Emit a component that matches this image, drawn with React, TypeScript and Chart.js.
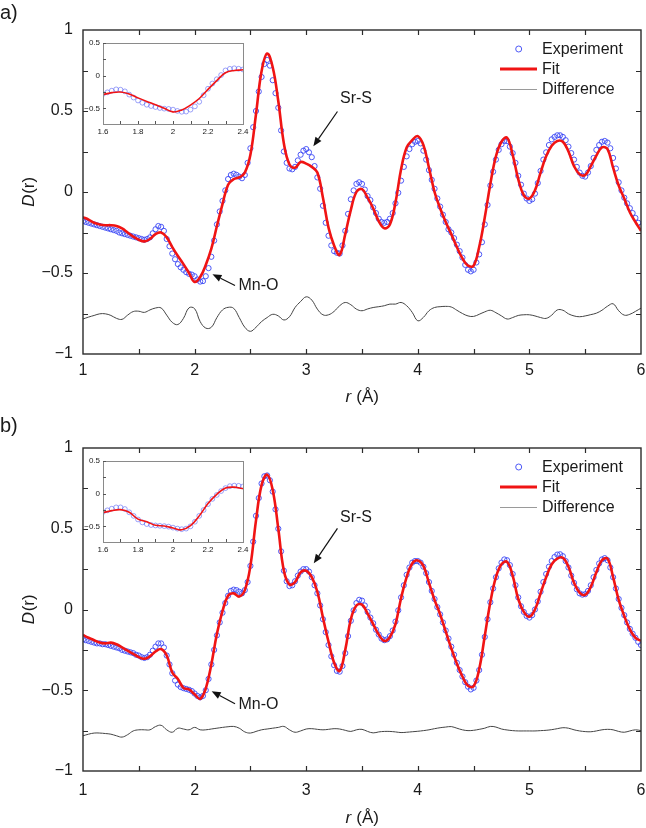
import React, { useEffect, useRef } from 'react';
import { Chart, registerables } from 'chart.js';

Chart.register(...registerables);

// Sampling of the r axis (Å)
const R_START = 1;
const EXP_STEP = 0.025;
const CURVE_STEP = 0.05;

// Axis ticks
const xTickValues = [1, 1.5, 2, 2.5, 3, 3.5, 4, 4.5, 5, 5.5, 6];
const yTickValues = [-1, -0.75, -0.5, -0.25, 0, 0.25, 0.5, 0.75, 1];
const insetXTickValues = [1.6, 1.7, 1.8, 1.9, 2, 2.1, 2.2, 2.3, 2.4];
const insetYTickValues = [-0.5, -0.25, 0, 0.25, 0.5];

// Panel a) — measured D(r), every 0.025 Å from 1 to 6 Å
const expA = [
  -0.18, -0.185, -0.19, -0.195, -0.2, -0.205, -0.21, -0.215,
  -0.22, -0.225, -0.23, -0.235, -0.24, -0.25, -0.255, -0.26,
  -0.265, -0.27, -0.275, -0.28, -0.285, -0.29, -0.295, -0.29,
  -0.28, -0.255, -0.23, -0.21, -0.215, -0.24, -0.29, -0.335,
  -0.38, -0.415, -0.445, -0.465, -0.48, -0.495, -0.505, -0.51,
  -0.52, -0.54, -0.553, -0.55, -0.52, -0.47, -0.4, -0.3,
  -0.2, -0.12, -0.055, 0.01, 0.08, 0.105, 0.113, 0.106,
  0.095, 0.085, 0.105, 0.18, 0.27, 0.4, 0.5, 0.62,
  0.71, 0.79, 0.815, 0.78, 0.69, 0.61, 0.52, 0.38,
  0.25, 0.18, 0.145, 0.14, 0.155, 0.195, 0.23, 0.255,
  0.265, 0.245, 0.215, 0.16, 0.09, 0.02, -0.085, -0.19,
  -0.27, -0.33, -0.365, -0.375, -0.38, -0.33, -0.24, -0.135,
  -0.045, 0.01, 0.05, 0.06, 0.05, 0.015, -0.025, -0.05,
  -0.095, -0.13, -0.165, -0.185, -0.19, -0.185, -0.165, -0.13,
  -0.07, -0.005, 0.07, 0.155, 0.22, 0.265, 0.295, 0.31,
  0.315, 0.3, 0.255, 0.2, 0.135, 0.075, 0.02, -0.04,
  -0.09, -0.14, -0.185, -0.23, -0.25, -0.285, -0.325, -0.365,
  -0.405, -0.45, -0.48, -0.49, -0.48, -0.435, -0.385, -0.31,
  -0.2, -0.08, 0.04, 0.125, 0.2, 0.26, 0.295, 0.315,
  0.314, 0.28, 0.24, 0.18, 0.1, 0.045, -0.01, -0.04,
  -0.055, -0.045, -0.01, 0.055, 0.13, 0.2, 0.245, 0.29,
  0.325, 0.34, 0.35, 0.35, 0.34, 0.32, 0.28, 0.24,
  0.2, 0.155, 0.12, 0.1, 0.095, 0.12, 0.16, 0.21,
  0.26, 0.29, 0.31, 0.315, 0.305, 0.27, 0.21, 0.145,
  0.06, 0.01, -0.035, -0.07, -0.1, -0.13, -0.16, -0.19,
  -0.215,
];

// Panel a) — fitted D(r), every 0.05 Å
const fitA = [
  -0.155, -0.17, -0.19, -0.2, -0.205, -0.205, -0.21, -0.225, -0.25, -0.275,
  -0.295, -0.305, -0.29, -0.26, -0.25, -0.28, -0.34, -0.395, -0.445, -0.5,
  -0.555, -0.525, -0.45, -0.35, -0.21, -0.075, 0.045, 0.08, 0.09, 0.12,
  0.23, 0.48, 0.745, 0.855, 0.77, 0.56, 0.3, 0.17, 0.15, 0.185,
  0.175, 0.155, 0.12, -0.035, -0.22, -0.33, -0.388, -0.26, -0.11, 0.0,
  0.018, -0.035, -0.1, -0.18, -0.224, -0.2, -0.065, 0.14, 0.275, 0.32,
  0.345, 0.29, 0.15, 0.0, -0.1, -0.185, -0.26, -0.34, -0.41, -0.455,
  -0.455, -0.34, -0.158, 0.05, 0.22, 0.31, 0.335, 0.23, 0.08, -0.02,
  -0.04, 0.01, 0.12, 0.22, 0.285, 0.315, 0.31, 0.25, 0.16, 0.11,
  0.105, 0.16, 0.225, 0.275, 0.265, 0.15, 0.04, -0.04, -0.125, -0.185,
  -0.24,
];

// Panel a) — difference curve (offset), every 0.05 Å
const diffA = [
  -0.784, -0.772, -0.762, -0.752, -0.752, -0.762, -0.78, -0.786, -0.76, -0.738,
  -0.736, -0.743, -0.728, -0.716, -0.716, -0.76, -0.805, -0.818, -0.78, -0.715,
  -0.72, -0.8, -0.84, -0.835, -0.775, -0.728, -0.712, -0.718, -0.775, -0.835,
  -0.86, -0.835, -0.8, -0.775, -0.755, -0.765, -0.79, -0.77, -0.713, -0.676,
  -0.647, -0.667, -0.723, -0.758, -0.758, -0.737, -0.702, -0.682, -0.696, -0.723,
  -0.733, -0.722, -0.713, -0.708, -0.702, -0.692, -0.692, -0.682, -0.702, -0.743,
  -0.795, -0.774, -0.733, -0.713, -0.708, -0.706, -0.71, -0.73, -0.75, -0.765,
  -0.768, -0.755, -0.74, -0.73, -0.745, -0.765, -0.784, -0.775, -0.762, -0.758,
  -0.758, -0.765, -0.775, -0.78, -0.76, -0.728, -0.73, -0.752, -0.765, -0.77,
  -0.765, -0.757, -0.748, -0.73, -0.705, -0.69, -0.733, -0.76, -0.755, -0.737,
  -0.717,
];

// Panel b) — measured D(r), every 0.025 Å
const expB = [
  -0.185, -0.19, -0.195, -0.2, -0.205, -0.21, -0.21, -0.215,
  -0.215, -0.22, -0.225, -0.23, -0.235, -0.24, -0.25, -0.255,
  -0.26, -0.265, -0.27, -0.28, -0.285, -0.295, -0.3, -0.295,
  -0.28, -0.255, -0.23, -0.21, -0.21, -0.235, -0.285, -0.34,
  -0.395, -0.44, -0.465, -0.48, -0.487, -0.492, -0.497, -0.505,
  -0.52, -0.535, -0.544, -0.535, -0.5, -0.43, -0.34, -0.25,
  -0.16, -0.08, -0.02, 0.04, 0.085, 0.115, 0.123, 0.12,
  0.11, 0.1, 0.12, 0.17, 0.27, 0.42, 0.58, 0.69,
  0.78, 0.825, 0.83, 0.8, 0.73, 0.62, 0.5, 0.36,
  0.24, 0.175, 0.145, 0.15, 0.175, 0.21, 0.235, 0.25,
  0.25, 0.235, 0.2, 0.15, 0.1, 0.025, -0.06, -0.14,
  -0.22, -0.29, -0.345, -0.38, -0.385, -0.35, -0.27, -0.165,
  -0.07, -0.005, 0.04, 0.06, 0.055, 0.025, -0.015, -0.05,
  -0.085, -0.125, -0.155, -0.18, -0.19, -0.185, -0.165, -0.13,
  -0.075, -0.005, 0.075, 0.15, 0.215, 0.26, 0.29, 0.3,
  0.3, 0.29, 0.265, 0.225, 0.17, 0.115, 0.065, 0.015,
  -0.03, -0.08, -0.13, -0.18, -0.23, -0.28, -0.33, -0.375,
  -0.415, -0.45, -0.478, -0.495, -0.485, -0.44, -0.375, -0.28,
  -0.17, -0.06, 0.045, 0.13, 0.2, 0.255, 0.29, 0.31,
  0.305, 0.275, 0.22, 0.15, 0.075, 0.02, -0.015, -0.04,
  -0.05, -0.035, 0.0, 0.05, 0.11, 0.17, 0.22, 0.265,
  0.3, 0.325, 0.34, 0.342, 0.33, 0.3, 0.26, 0.21,
  0.165, 0.125, 0.1, 0.092, 0.095, 0.115, 0.15, 0.2,
  0.245, 0.285, 0.31, 0.318, 0.305, 0.26, 0.2, 0.13,
  0.065, 0.01, -0.035, -0.08, -0.12, -0.15, -0.175, -0.2,
  -0.22,
];

// Panel b) — fitted D(r), every 0.05 Å
const fitB = [
  -0.158, -0.175, -0.19, -0.205, -0.21, -0.205, -0.215, -0.235, -0.255, -0.275,
  -0.295, -0.305, -0.29, -0.26, -0.245, -0.285, -0.39, -0.43, -0.485, -0.495,
  -0.525, -0.553, -0.49, -0.34, -0.15, -0.01, 0.085, 0.1, 0.08, 0.12,
  0.27, 0.55, 0.77, 0.835, 0.74, 0.5, 0.24, 0.155, 0.17, 0.23,
  0.24, 0.2, 0.11, -0.05, -0.2, -0.33, -0.38, -0.25, -0.06, 0.025,
  0.03, -0.025, -0.09, -0.155, -0.195, -0.17, -0.09, 0.07, 0.2, 0.285,
  0.304, 0.27, 0.165, 0.06, -0.03, -0.135, -0.24, -0.335, -0.415, -0.472,
  -0.475, -0.37, -0.164, 0.045, 0.2, 0.28, 0.295, 0.21, 0.065, -0.015,
  -0.045, 0.0, 0.1, 0.2, 0.28, 0.315, 0.32, 0.265, 0.165, 0.105,
  0.09, 0.14, 0.23, 0.305, 0.315, 0.2, 0.06, -0.04, -0.123, -0.175,
  -0.195,
];

// Panel b) — difference curve (offset), every 0.05 Å
const diffB = [
  -0.782, -0.772, -0.765, -0.765, -0.768, -0.772, -0.782, -0.79, -0.775, -0.752,
  -0.745, -0.745, -0.745, -0.725, -0.717, -0.745, -0.76, -0.735, -0.74, -0.745,
  -0.73, -0.745, -0.745, -0.74, -0.735, -0.73, -0.726, -0.724, -0.735, -0.758,
  -0.765, -0.755, -0.745, -0.74, -0.735, -0.73, -0.724, -0.745, -0.76, -0.752,
  -0.74, -0.738, -0.742, -0.745, -0.742, -0.738, -0.74, -0.748, -0.755, -0.745,
  -0.742, -0.755, -0.764, -0.758, -0.755, -0.755, -0.758, -0.762, -0.76, -0.757,
  -0.754, -0.75, -0.745, -0.738, -0.732, -0.728, -0.725, -0.735, -0.745, -0.75,
  -0.748, -0.742, -0.735, -0.724, -0.728, -0.74, -0.746, -0.75, -0.752, -0.752,
  -0.752, -0.752, -0.75, -0.748, -0.744, -0.738, -0.732, -0.735, -0.745, -0.752,
  -0.756, -0.757, -0.752, -0.745, -0.742, -0.745, -0.755, -0.76, -0.752, -0.745,
  -0.75,
];

const seriesNames = ['Experiment', 'Fit', 'Difference'];

const FAMILY = '"Liberation Sans", Arial, Helvetica, sans-serif';
const BLUE = 'rgba(60, 72, 245, 0.9)';
const BLUE_INSET = 'rgba(80, 92, 245, 0.7)';
const RED = '#f01414';
const DIFF_COLOR = '#444444';
const DIFF_LEGEND = '#9a9a9a';
const AXIS = '#2b2b2b';
const TEXT = '#1a1a1a';

const CANVAS_W = 646;
const Y_AXIS_W = 83;
const RIGHT_PAD = 5;
const TICK_FONT = 16;

const INSET_LEFT = 76;
const INSET_W = 174;
const INSET_AREA_H = 81;
const INSET_PAD_TOP = 8;
const INSET_X_AXIS_H = 18;
const INSET_Y_AXIS_W = 27;
const INSET_OFFSET = 13; // inset plot top below main plot top

type Pt = { x: number; y: number };
const toPoints = (values: number[], step: number): Pt[] =>
  values.map((v, i) => ({ x: Math.round((R_START + i * step) * 1000) / 1000, y: v }));

const fmt = (v: number) => String(Math.round(v * 100) / 100).replace('-', '\u2212');

type Note = { text: string; textX: number; textY: number; align: CanvasTextAlign; from: [number, number]; to: [number, number] };

type PanelSpec = {
  label: string;
  top: number;
  height: number;
  areaTop: number;
  areaBottom: number;
  labelY: number;
  tickGap: number;
  titleOffset: number;
  exp: number[];
  fit: number[];
  diff: number[];
  notes: Note[];
};

const panels: PanelSpec[] = [
  {
    label: 'a)', top: 0, height: 405, areaTop: 30, areaBottom: 354, labelY: 13, tickGap: 7, titleOffset: 43,
    exp: expA, fit: fitA, diff: diffA,
    notes: [
      { text: 'Sr-S', textX: 3.446, textY: 0.574, align: 'center', from: [3.28, 0.497], to: [3.064, 0.282] },
      { text: 'Mn-O', textX: 2.393, textY: -0.58, align: 'left', from: [2.362, -0.577], to: [2.16, -0.508] },
    ],
  },
  {
    label: 'b)', top: 405, height: 423, areaTop: 43, areaBottom: 366, labelY: 21, tickGap: 10, titleOffset: 47,
    exp: expB, fit: fitB, diff: diffB,
    notes: [
      { text: 'Sr-S', textX: 3.446, textY: 0.572, align: 'center', from: [3.28, 0.502], to: [3.068, 0.286] },
      { text: 'Mn-O', textX: 2.393, textY: -0.589, align: 'left', from: [2.362, -0.583], to: [2.153, -0.506] },
    ],
  },
];

function drawArrow(ctx: CanvasRenderingContext2D, x0: number, y0: number, x1: number, y1: number) {
  const ang = Math.atan2(y1 - y0, x1 - x0);
  const len = 9;
  const hw = 3.6;
  const bx = x1 - len * Math.cos(ang);
  const by = y1 - len * Math.sin(ang);
  ctx.beginPath();
  ctx.moveTo(x0, y0);
  ctx.lineTo(bx, by);
  ctx.stroke();
  ctx.beginPath();
  ctx.moveTo(x1, y1);
  ctx.lineTo(bx + hw * Math.sin(ang), by - hw * Math.cos(ang));
  ctx.lineTo(bx - hw * Math.sin(ang), by + hw * Math.cos(ang));
  ctx.closePath();
  ctx.fill();
}

// Two-part label: italic symbol followed by upright text, centred on (0, 0)
function drawMixedLabel(ctx: CanvasRenderingContext2D, italicPart: string, plainPart: string, size: number) {
  ctx.font = `italic ${size}px ${FAMILY}`;
  const w1 = ctx.measureText(italicPart).width;
  ctx.font = `${size}px ${FAMILY}`;
  const w2 = ctx.measureText(plainPart).width;
  const start = -(w1 + w2) / 2;
  ctx.textAlign = 'left';
  ctx.textBaseline = 'middle';
  ctx.font = `italic ${size}px ${FAMILY}`;
  ctx.fillText(italicPart, start, 0);
  ctx.font = `${size}px ${FAMILY}`;
  ctx.fillText(plainPart, start + w1 + 0.5, 0);
}

function mainDecor(spec: PanelSpec) {
  return {
    id: 'mainDecor',
    afterDraw(chart: any) {
      const { ctx, chartArea: a, scales } = chart;
      const xs = scales.x;
      const ys = scales.y;
      ctx.save();

      // frame with inward ticks on all four sides
      ctx.strokeStyle = AXIS;
      ctx.lineWidth = 1.4;
      ctx.strokeRect(a.left, a.top, a.right - a.left, a.bottom - a.top);
      ctx.lineWidth = 1.2;
      ctx.beginPath();
      xTickValues.slice(1, -1).forEach((t) => {
        const px = Math.round(xs.getPixelForValue(t)) + 0.5;
        ctx.moveTo(px, a.bottom);
        ctx.lineTo(px, a.bottom - 5);
        ctx.moveTo(px, a.top);
        ctx.lineTo(px, a.top + 5);
      });
      yTickValues.slice(1, -1).forEach((t) => {
        const py = Math.round(ys.getPixelForValue(t)) + 0.5;
        ctx.moveTo(a.left, py);
        ctx.lineTo(a.left + 5, py);
        ctx.moveTo(a.right, py);
        ctx.lineTo(a.right - 5, py);
      });
      ctx.stroke();

      ctx.fillStyle = TEXT;

      // axis titles
      ctx.save();
      ctx.translate(29.5, (a.top + a.bottom) / 2);
      ctx.rotate(-Math.PI / 2);
      drawMixedLabel(ctx, 'D', '(r)', 17);
      ctx.restore();

      ctx.save();
      ctx.translate((a.left + a.right) / 2, a.bottom + spec.titleOffset);
      drawMixedLabel(ctx, 'r', ' (\u00C5)', 17);
      ctx.restore();

      // panel letter
      ctx.font = `20px ${FAMILY}`;
      ctx.textAlign = 'left';
      ctx.textBaseline = 'middle';
      ctx.fillText(spec.label, 0, spec.labelY);

      // legend
      const lx0 = 500;
      const lx1 = 537;
      const tx = 542;
      const ly = a.top + 19;
      ctx.lineWidth = 1;
      ctx.strokeStyle = BLUE;
      ctx.beginPath();
      ctx.arc(518.7, ly, 3, 0, Math.PI * 2);
      ctx.stroke();
      ctx.strokeStyle = RED;
      ctx.lineWidth = 3;
      ctx.beginPath();
      ctx.moveTo(lx0, ly + 20);
      ctx.lineTo(lx1, ly + 20);
      ctx.stroke();
      ctx.strokeStyle = DIFF_LEGEND;
      ctx.lineWidth = 1;
      ctx.beginPath();
      ctx.moveTo(lx0, ly + 40.5);
      ctx.lineTo(lx1, ly + 40.5);
      ctx.stroke();
      ctx.font = `16px ${FAMILY}`;
      ctx.fillStyle = TEXT;
      seriesNames.forEach((name, i) => ctx.fillText(name, tx, ly + i * 20 + 1));

      // peak annotations
      ctx.strokeStyle = '#111';
      ctx.fillStyle = '#111';
      ctx.lineWidth = 1.2;
      spec.notes.forEach((n) => {
        drawArrow(
          ctx,
          xs.getPixelForValue(n.from[0]), ys.getPixelForValue(n.from[1]),
          xs.getPixelForValue(n.to[0]), ys.getPixelForValue(n.to[1]),
        );
        ctx.font = `16px ${FAMILY}`;
        ctx.textAlign = n.align;
        ctx.textBaseline = 'middle';
        ctx.fillStyle = TEXT;
        ctx.fillText(n.text, xs.getPixelForValue(n.textX), ys.getPixelForValue(n.textY));
        ctx.fillStyle = '#111';
      });

      ctx.restore();
    },
  };
}

const insetDecor = {
  id: 'insetDecor',
  beforeDraw(chart: any) {
    const { ctx, chartArea: a } = chart;
    ctx.save();
    ctx.fillStyle = '#ffffff';
    ctx.fillRect(a.left, a.top, a.right - a.left, a.bottom - a.top);
    ctx.restore();
  },
  afterDraw(chart: any) {
    const { ctx, chartArea: a, scales } = chart;
    ctx.save();
    ctx.strokeStyle = '#8a8a8a';
    ctx.lineWidth = 1;
    ctx.strokeRect(Math.round(a.left) + 0.5, Math.round(a.top) + 0.5, Math.round(a.right - a.left), Math.round(a.bottom - a.top));
    ctx.strokeStyle = '#555';
    ctx.beginPath();
    insetXTickValues.slice(1, -1).forEach((t) => {
      const px = Math.round(scales.x.getPixelForValue(t)) + 0.5;
      ctx.moveTo(px, a.bottom);
      ctx.lineTo(px, a.bottom - 3);
    });
    insetYTickValues.forEach((t) => {
      const py = Math.round(scales.y.getPixelForValue(t)) + 0.5;
      ctx.moveTo(a.left, py);
      ctx.lineTo(a.left + 3, py);
    });
    ctx.stroke();
    ctx.restore();
  },
};

function mainConfig(spec: PanelSpec): any {
  return {
    type: 'line',
    data: {
      datasets: [
        {
          label: seriesNames[0],
          data: toPoints(spec.exp, EXP_STEP),
          showLine: false,
          pointStyle: 'circle',
          pointRadius: 2.6,
          pointBorderWidth: 1,
          pointBorderColor: BLUE,
          pointBackgroundColor: 'rgba(0,0,0,0)',
          borderColor: BLUE,
          order: 1,
        },
        {
          label: seriesNames[1],
          data: toPoints(spec.fit, CURVE_STEP),
          borderColor: RED,
          borderWidth: 2.6,
          pointRadius: 0,
          tension: 0.4,
          order: 0,
        },
        {
          label: seriesNames[2],
          data: toPoints(spec.diff, CURVE_STEP),
          borderColor: DIFF_COLOR,
          borderWidth: 1,
          pointRadius: 0,
          tension: 0.4,
          order: 2,
        },
      ],
    },
    options: {
      responsive: false,
      animation: false,
      devicePixelRatio: 1,
      events: [],
      layout: { padding: { top: spec.areaTop, right: RIGHT_PAD, left: 0, bottom: 0 } },
      plugins: { legend: { display: false }, tooltip: { enabled: false } },
      scales: {
        x: {
          type: 'linear',
          min: 1,
          max: 6,
          // the gap below the axis comes from an undrawn tick length, so it
          // does not widen the horizontal padding of the plot area
          grid: { display: false, drawTicks: true, tickLength: spec.tickGap },
          border: { display: false },
          ticks: {
            stepSize: 1,
            autoSkip: false,
            maxRotation: 0,
            padding: 0,
            color: TEXT,
            font: { family: FAMILY, size: TICK_FONT },
            callback: (v: number) => fmt(v),
          },
          afterFit: (s: any) => { s.height = spec.height - spec.areaBottom; },
        },
        y: {
          type: 'linear',
          min: -1,
          max: 1,
          grid: { display: false, drawTicks: false },
          border: { display: false },
          ticks: {
            stepSize: 0.5,
            autoSkip: false,
            padding: 10,
            color: TEXT,
            font: { family: FAMILY, size: TICK_FONT },
            callback: (v: number) => fmt(v),
          },
          afterFit: (s: any) => { s.width = Y_AXIS_W; },
        },
      },
    },
    plugins: [mainDecor(spec)],
  };
}

function insetConfig(spec: PanelSpec): any {
  return {
    type: 'line',
    data: {
      datasets: [
        {
          data: toPoints(spec.exp, EXP_STEP),
          showLine: false,
          pointRadius: 2.4,
          pointBorderWidth: 0.8,
          pointBorderColor: BLUE_INSET,
          pointBackgroundColor: 'rgba(0,0,0,0)',
          order: 1,
          clip: 0,
        },
        {
          data: toPoints(spec.fit, CURVE_STEP),
          borderColor: RED,
          borderWidth: 1.6,
          pointRadius: 0,
          tension: 0.4,
          order: 0,
          clip: 0,
        },
      ],
    },
    options: {
      responsive: false,
      animation: false,
      devicePixelRatio: 1,
      events: [],
      layout: { padding: { top: INSET_PAD_TOP, right: 7, left: 0, bottom: 0 } },
      plugins: { legend: { display: false }, tooltip: { enabled: false } },
      scales: {
        x: {
          type: 'linear',
          min: 1.6,
          max: 2.4,
          grid: { display: false, drawTicks: true, tickLength: 3 },
          border: { display: false },
          ticks: {
            stepSize: 0.2,
            autoSkip: false,
            maxRotation: 0,
            padding: 0,
            color: TEXT,
            font: { family: FAMILY, size: 8 },
            callback: (v: number) => fmt(v),
          },
          afterFit: (s: any) => { s.height = INSET_X_AXIS_H; },
        },
        y: {
          type: 'linear',
          min: -0.74,
          max: 0.5,
          grid: { display: false, drawTicks: false },
          border: { display: false },
          ticks: {
            stepSize: 0.5,
            includeBounds: false,
            autoSkip: false,
            padding: 3,
            color: TEXT,
            font: { family: FAMILY, size: 8 },
            callback: (v: number) => fmt(v),
          },
          afterFit: (s: any) => { s.width = INSET_Y_AXIS_W; },
        },
      },
    },
    plugins: [insetDecor],
  };
}

function Panel({ spec }: { spec: PanelSpec }) {
  const mainRef = useRef<HTMLCanvasElement>(null);
  const insetRef = useRef<HTMLCanvasElement>(null);

  useEffect(() => {
    const main = new Chart(mainRef.current as HTMLCanvasElement, mainConfig(spec));
    const inset = new Chart(insetRef.current as HTMLCanvasElement, insetConfig(spec));
    return () => {
      main.destroy();
      inset.destroy();
    };
  }, [spec]);

  const insetH = INSET_PAD_TOP + INSET_AREA_H + INSET_X_AXIS_H;
  const insetTop = spec.top + spec.areaTop + INSET_OFFSET - INSET_PAD_TOP;

  return (
    <>
      <canvas
        ref={mainRef}
        width={CANVAS_W}
        height={spec.height}
        style={{ position: 'absolute', left: 0, top: spec.top, width: CANVAS_W, height: spec.height }}
      />
      <canvas
        ref={insetRef}
        width={INSET_W}
        height={insetH}
        style={{ position: 'absolute', left: INSET_LEFT, top: insetTop, width: INSET_W, height: insetH }}
      />
    </>
  );
}

export default function App() {
  return (
    <div style={{ position: 'absolute', left: 0, top: 0, width: 646, height: 828, background: '#ffffff', overflow: 'hidden' }}>
      {panels.map((p) => (
        <Panel key={p.label} spec={p} />
      ))}
    </div>
  );
}
